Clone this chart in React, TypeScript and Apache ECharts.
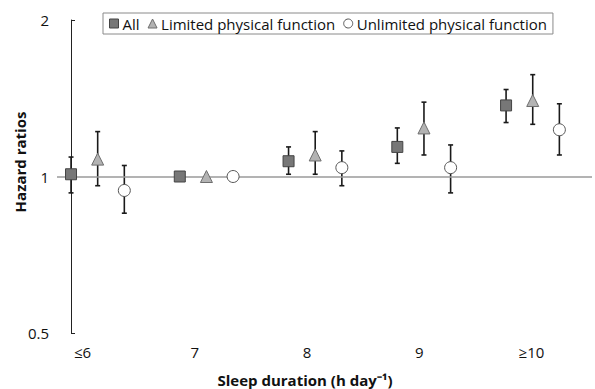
import React, { useEffect, useRef } from "react";
import * as echarts from "echarts";

// ---- data ----
const categories = ["≤6", "7", "8", "9", "≥10"];
const seriesNames = ["All", "Limited physical function", "Unlimited physical function"];

const allHR = [1.01, 1.0, 1.07, 1.14, 1.37];
const allLow = [0.93, null, 1.01, 1.06, 1.27];
const allHigh = [1.09, null, 1.14, 1.24, 1.47];

const limitedHR = [1.08, 1.0, 1.1, 1.24, 1.4];
const limitedLow = [0.96, null, 1.01, 1.1, 1.26];
const limitedHigh = [1.22, null, 1.22, 1.39, 1.57];

const unlimitedHR = [0.94, 1.0, 1.04, 1.04, 1.23];
const unlimitedLow = [0.85, null, 0.96, 0.93, 1.1];
const unlimitedHigh = [1.05, null, 1.12, 1.15, 1.38];

const yTicks = [0.5, 1, 2];

// ---- layout / style ----
const FONT = "'Open Sans', sans-serif";
const seriesOffset = [0, 0.245, 0.49];
const symbols = ["rect", "triangle", "circle"];
const fills = ["#777777", "#b3b3b3", "#ffffff"];
const borders = ["#444444", "#6e6e6e", "#555555"];
const sizes = [11, 12, 12];

const hrs = [allHR, limitedHR, unlimitedHR];
const lows = [allLow, limitedLow, unlimitedLow];
const highs = [allHigh, limitedHigh, unlimitedHigh];

export default function App() {
  const ref = useRef<HTMLDivElement>(null);
  useEffect(() => {
    document.body.style.margin = "0";
    if (!ref.current) return;
    const chart = echarts.init(ref.current, null, { renderer: "svg" });

    const errData: any[] = [];
    hrs.forEach((_, s) => {
      categories.forEach((_, i) => {
        if (lows[s][i] != null && highs[s][i] != null) {
          errData.push([i + seriesOffset[s], lows[s][i], highs[s][i]]);
        }
      });
    });

    const scatterSeries = seriesNames.map((name, s) => ({
      name,
      type: "scatter",
      xAxisIndex: 0,
      yAxisIndex: 0,
      symbol: symbols[s],
      symbolSize: sizes[s],
      z: 5,
      itemStyle: { color: fills[s], borderColor: borders[s], borderWidth: 1, opacity: 1 },
      data: hrs[s].map((v, i) => [i + seriesOffset[s], v]),
    }));

    chart.setOption({
      animation: false,
      grid: { left: 57, right: 3, top: 20, bottom: 56, containLabel: false },
      legend: {
        left: 103,
        top: 13,
        padding: [3, 6, 3, 6],
        borderColor: "#8a8a8a",
        borderWidth: 1,
        itemWidth: 9,
        itemHeight: 9,
        itemGap: 8,
        textStyle: { fontFamily: FONT, fontSize: 15, color: "#111", padding: [0, 0, 0, -1] },
        data: seriesNames.map((n, s) => ({
          name: n,
          icon: symbols[s],
          itemStyle: { color: fills[s], borderColor: borders[s], borderWidth: 1 },
        })),
      },
      xAxis: [
        {
          type: "value",
          min: -0.129,
          max: 4.79,
          show: false,
        },
        {
          type: "value",
          position: "bottom",
          min: -0.228,
          max: 4.54,
          axisLine: { show: false },
          axisTick: { show: false },
          splitLine: { show: false },
          axisLabel: {
            customValues: categories.map((_, i) => i),
            formatter: (v: number) => categories[Math.round(v)] ?? "",
            fontFamily: FONT,
            fontSize: 15,
            color: "#111",
            margin: 11,
          },
        },
      ],
      yAxis: {
        type: "log",
        logBase: 2,
        min: yTicks[0],
        max: yTicks[yTicks.length - 1],
        axisLine: { show: true, lineStyle: { color: "#222", width: 1 } },
        axisTick: { show: true, inside: true, length: 4, lineStyle: { color: "#222" } },
        splitLine: { show: false },
        axisLabel: {
          formatter: (v: number) => String(v),
          fontFamily: FONT,
          fontSize: 15,
          color: "#111",
          margin: 8,
        },
      },
      graphic: [
        {
          type: "text",
          x: 20,
          y: 162,
          rotation: Math.PI / 2,
          style: {
            text: "Hazard ratios",
            align: "center",
            verticalAlign: "middle",
            font: `bold 15px ${FONT}`,
            fill: "#111",
          },
        },
        {
          type: "text",
          x: 305,
          y: 380,
          style: {
            text: "Sleep duration (h day⁻¹)",
            align: "center",
            verticalAlign: "middle",
            font: `bold 15px ${FONT}`,
            fill: "#111",
          },
        },
      ],
      series: [
        {
          type: "custom",
          name: "errorbars",
          xAxisIndex: 0,
          yAxisIndex: 0,
          z: 3,
          silent: true,
          data: errData,
          renderItem: (params: any, api: any) => {
            const x = api.value(0);
            const lo = api.coord([x, api.value(1)]);
            const hi = api.coord([x, api.value(2)]);
            const cap = 2.5;
            const style = { stroke: "#1a1a1a", lineWidth: 1.6 };
            return {
              type: "group",
              children: [
                { type: "line", shape: { x1: lo[0], y1: lo[1], x2: hi[0], y2: hi[1] }, style },
                { type: "line", shape: { x1: lo[0] - cap, y1: lo[1], x2: lo[0] + cap, y2: lo[1] }, style },
                { type: "line", shape: { x1: hi[0] - cap, y1: hi[1], x2: hi[0] + cap, y2: hi[1] }, style },
              ],
            };
          },
          markLine: {
            silent: true,
            symbol: "none",
            label: { show: false },
            lineStyle: { color: "#9a9a9a", width: 1.5, type: "solid" },
            data: [{ yAxis: 1 }],
          },
        },
        ...scatterSeries,
      ],
    });
    return () => chart.dispose();
  }, []);
  return <div ref={ref} style={{ width: 595, height: 389 }} />;
}
